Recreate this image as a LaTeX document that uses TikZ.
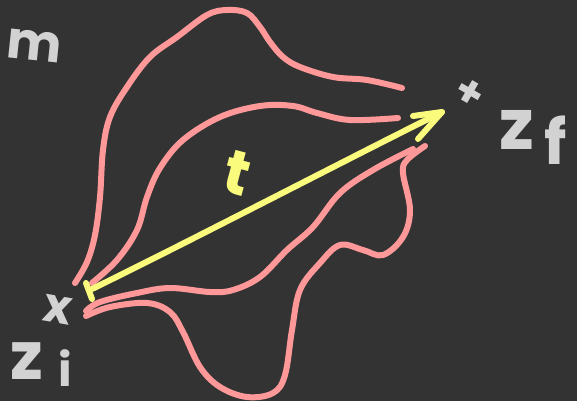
\documentclass[tikz,border=0pt]{standalone}
\usepackage{fontspec}
\setmainfont{Poppins}
\usetikzlibrary{arrows.meta}
\definecolor{bg}{HTML}{333333}
\definecolor{pinkc}{HTML}{FF9999}
\definecolor{yellc}{HTML}{FAFA7D}
\definecolor{grayc}{HTML}{D2D2D2}
\tikzset{
  pinkline/.style={draw=pinkc, line width=6pt, line cap=round, line join=round},
  yellline/.style={draw=yellc, line width=6pt, line cap=round, line join=round},
  graytext/.style={text=grayc, inner sep=0pt, font=\bfseries\fontsize{80}{80}\selectfont},
  yelltext/.style={text=yellc, inner sep=0pt, font=\bfseries\fontsize{62}{62}\selectfont},
}
\begin{document}
\begin{tikzpicture}[x=1pt,y=-1pt]
\fill[bg] (0,0) rectangle (577,401);
\useasboundingbox (0,0) rectangle (577,401);
% outer top curve
\draw[pinkline] plot[smooth, tension=0.6] coordinates {(75,283) (87,262) (95,235) (100,197) (103,150) (110,117) (127,87) (150,57) (177,37) (207,15) (227,10) (247,13) (260,27) (270,42) (283,57) (300,67) (333,77) (367,80) (402,88)};
% inner top curve
\draw[pinkline] plot[smooth, tension=0.6] coordinates {(92,283) (117,260) (137,230) (147,197) (160,168) (183,140) (220,117) (260,106) (293,106) (317,113) (350,120) (398,118)};
% inner bottom curve
\draw[pinkline] plot[smooth, tension=0.6] coordinates {(86,311) (100,302) (137,293) (170,288) (210,292) (233,290) (260,277) (287,250) (313,227) (340,193) (373,170) (413,149)};
% outer bottom curve
\draw[pinkline] plot[smooth, tension=0.6] coordinates {(86,316) (110,307) (147,303) (170,312) (183,332) (200,367) (220,387) (247,397) (273,393) (285,375) (292,330) (300,290) (320,263) (340,245) (363,250) (383,255) (403,237) (410,210) (403,173) (407,160) (425,146)};
% arrow
\coordinate (start) at (92,289);
\coordinate (tip) at (442,112);
\draw[yellline] (86,283) -- (92,299);
\draw[yellline] (start) .. controls (200,236) and (330,168) .. (tip);
\draw[yellline] (413,116) -- (tip) -- (418,139);
% labels
\node[yelltext, rotate=-15] (t) at (237,173) {t};
\node[graytext, font=\bfseries\fontsize{52}{52}\selectfont, rotate=-6] (m) at (34,46) {m};
\node[graytext, font=\bfseries\fontsize{48}{48}\selectfont, rotate=-10] (xi) at (58,310) {x};
\node[graytext, font=\bfseries\fontsize{66}{66}\selectfont] (zi) at (27,361) {z};
\node[graytext, font=\bfseries\fontsize{46}{46}\selectfont] (ii) at (65,368) {i};
\node[graytext, font=\bfseries\fontsize{44}{44}\selectfont, rotate=-30] (pf) at (469,94) {+};
\node[graytext, font=\bfseries\fontsize{70}{70}\selectfont] (zf) at (517,130) {z};
\node[graytext, font=\bfseries\fontsize{62}{62}\selectfont] (ff) at (556,140) {f};
\end{tikzpicture}
\end{document}
